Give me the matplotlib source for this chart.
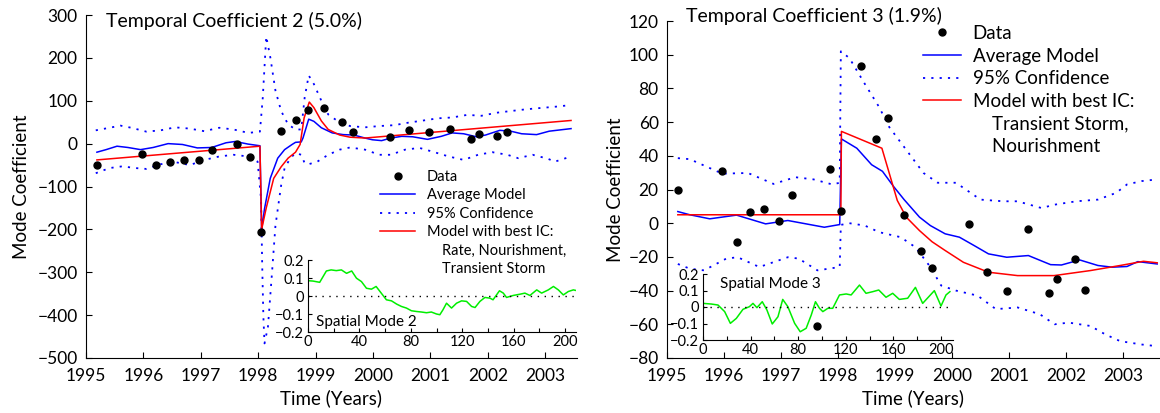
import numpy as np
import matplotlib
matplotlib.use('Agg')
import matplotlib.pyplot as plt
from matplotlib.lines import Line2D

plt.rcParams['font.family'] = ['Lato', 'DejaVu Sans']

# survey times shared by both coefficients
t_data = [1995.19, 1995.97, 1996.22, 1996.46, 1996.71, 1996.96, 1997.20, 1997.63,
          1997.86, 1998.05, 1998.40, 1998.66, 1998.87, 1999.15, 1999.46, 1999.65,
          2000.30, 2000.62, 2000.97, 2001.34, 2001.71, 2001.84, 2002.16, 2002.33]

# ---- coefficient 2 ----
c2_data = [-50, -24, -51, -43, -39, -38, -16, -1, -31, -205, 29, 55, 79, 84, 50, 27,
           15, 31, 26, 35, 11, 23, 17, 28]

c2_best_t = [1995.19, 1998.03, 1998.06, 1998.14, 1998.27, 1998.40, 1998.52, 1998.65, 1998.73,
             1998.80, 1998.89, 1998.97, 1999.10, 1999.22, 1999.42, 1999.60, 1999.86, 2003.45]
c2_best_v = [-38, -6, -200, -150, -81, -54, -34, -20, -2,
             60, 97, 84, 53, 33, 20, 15, 13, 54]

c2_avg_t = [1995.19, 1995.35, 1995.54, 1995.73, 1995.95, 1996.17, 1996.43, 1996.68, 1996.94,
            1997.19, 1997.44, 1997.60, 1997.82, 1998.03, 1998.06, 1998.11, 1998.21, 1998.34,
            1998.46, 1998.59, 1998.65, 1998.75, 1998.78, 1998.88, 1998.97, 1999.10, 1999.29,
            1999.48, 1999.67, 1999.86, 1999.99, 2000.15, 2000.31, 2000.50, 2000.69, 2000.95,
            2001.19, 2001.38, 2001.58, 2001.80, 2001.96, 2002.21, 2002.40, 2002.59, 2002.85,
            2003.07, 2003.45]
c2_avg_v = [-20, -14, -6, -9, -14, -9, 0, -2, -10,
            -9, 2, 5, -1, -5, -200, -152, -81, -34,
            -14, -2, 3, 4, 13, 57, 52, 37, 25,
            21, 20, 13, 9, 7, 13, 17, 16, 10,
            17, 25, 23, 16, 20, 31, 29, 23, 21,
            29, 35]

c2_hi_t = [1995.17, 1995.41, 1995.60, 1995.79, 1996.05, 1996.30, 1996.55, 1996.81, 1997.06,
           1997.32, 1997.57, 1997.83, 1998.03, 1998.08, 1998.14, 1998.21, 1998.30, 1998.40,
           1998.52, 1998.65, 1998.75, 1998.81, 1998.88, 1998.97, 1999.10, 1999.22, 1999.38,
           1999.60, 1999.86, 2000.11, 2000.37, 2000.62, 2000.88, 2001.13, 2001.38, 2001.64,
           2001.89, 2002.15, 2002.40, 2002.66, 2002.91, 2003.17, 2003.45]
c2_hi_v = [31, 37, 42, 37, 28, 31, 38, 35, 29,
           37, 33, 25, 28, 108, 250, 202, 124, 76,
           45, 33, 33, 108, 159, 139, 100, 68, 53,
           41, 38, 41, 43, 49, 54, 59, 61, 67,
           65, 72, 76, 80, 83, 86, 90]

c2_lo_t = [1995.17, 1995.41, 1995.63, 1995.86, 1996.05, 1996.30, 1996.55, 1996.81, 1997.06,
           1997.32, 1997.57, 1997.83, 1997.99, 1998.05, 1998.07, 1998.09, 1998.11, 1998.17,
           1998.24, 1998.30, 1998.35, 1998.40, 1998.46, 1998.56, 1998.65, 1998.75, 1998.81,
           1998.88, 1999.03, 1999.22, 1999.42, 1999.60, 1999.86, 2000.11, 2000.31, 2000.56,
           2000.81, 2001.07, 2001.32, 2001.58, 2001.83, 2002.08, 2002.34, 2002.53, 2002.78,
           2003.04, 2003.17, 2003.45]
c2_lo_v = [-69, -57, -53, -57, -59, -48, -43, -50, -38,
           -30, -26, -30, -42, -130, -286, -403, -466, -427,
           -302, -192, -144, -97, -57, -34, -22, -26, -46,
           -48, -42, -26, -14, -9, -14, -26, -26, -14,
           -10, -20, -30, -38, -26, -20, -26, -34, -26,
           -35, -42, -30]

# ---- coefficient 3 ----
c3_data = [19.6, 31.2, -10.9, 6.5, 8.5, 1.2, 16.7, -61, 32.4, 7.1, 93, 50, 62.7, 4.8,
           -16.6, -26.5, -0.4, -28.7, -40, -3.4, -41.6, -33.3, -21.4, -39.6]

c3_best_t = [1995.19, 1998.05, 1998.06, 1998.77, 1999.04, 1999.20, 1999.43, 1999.65, 1999.88,
             2000.20, 2000.64, 2001.15, 2001.79, 2002.43, 2002.95, 2003.36, 2003.60]
c3_best_v = [5, 5, 54.5, 44.5, 13.5, 3.5, -4.4, -11, -16.2,
             -23.2, -29.1, -31.1, -31.1, -28.1, -25.1, -22.6, -23.5]

c3_avg_t = [1995.19, 1995.40, 1995.75, 1996.22, 1996.73, 1997.12, 1997.76, 1998.03, 1998.06,
            1998.33, 1998.59, 1998.78, 1998.97, 1999.16, 1999.43, 1999.62, 1999.88, 2000.13,
            2000.39, 2000.64, 2000.96, 2001.34, 2001.73, 2001.92, 2002.24, 2002.56, 2002.81,
            2003.07, 2003.26, 2003.60]
c3_avg_v = [6.9, 5, 2.6, 4.8, -0.4, 1.6, -2.4, -0.8, 50,
            44.5, 34.7, 30.8, 22, 14, 3.6, -1.4, -6.3, -8.3,
            -13.3, -18.2, -20.2, -19.2, -24.6, -24.8, -21.8, -25.1, -26.1,
            -25.7, -22.8, -24.2]

c3_hi_t = [1995.19, 1995.40, 1995.97, 1996.42, 1996.87, 1997.25, 1997.57, 1997.90, 1998.03,
           1998.05, 1998.20, 1998.47, 1998.72, 1998.90, 1999.24, 1999.50, 1999.75, 2000.07,
           2000.50, 2000.90, 2001.15, 2001.57, 2001.80, 2002.18, 2002.56, 2002.88, 2003.07,
           2003.33, 2003.60]
c3_hi_v = [38.6, 38, 29.4, 29.8, 23.3, 27.3, 26, 23, 24,
           102, 98, 82.7, 69, 57, 41.6, 29.8, 24, 24,
           14, 13, 13, 9, 11, 13, 14, 18, 23,
           25, 26]

c3_lo_t = [1995.19, 1995.40, 1995.65, 1996.04, 1996.24, 1996.62, 1997.12, 1997.31, 1997.64,
           1998.03, 1998.05, 1998.20, 1998.47, 1998.72, 1999.10, 1999.36, 1999.62, 1999.81,
           2000.07, 2000.45, 2000.77, 2001.15, 2001.54, 2001.80, 2002.05, 2002.43, 2002.69,
           2002.95, 2003.33, 2003.60]
c3_lo_v = [-24.2, -27, -28, -21, -20.2, -26, -20.2, -21, -28,
           -26, -1, 0, -1.4, -5.3, -8.3, -14.3, -26, -37,
           -40, -43, -51, -50, -54, -60, -59, -61, -66,
           -70, -72, -73]

# ---- spatial modes (insets) ----
m2_x = [0, 3.9, 9.1, 14.3, 18, 22, 26, 30, 34, 37.7, 41.6, 45.5, 49.4, 53, 57, 61, 65, 69,
        72.7, 76.6, 80.5, 84.4, 88.3, 92.2, 96, 100, 102.6, 105, 107.8, 111.7, 115.6, 119.5,
        123.4, 127.3, 130, 133.8, 137.7, 141.6, 144, 149, 152, 154.5, 159.7, 165, 168.8,
        172.7, 178, 181.8, 187, 191, 194.8, 198.7, 202.6, 206.5, 209]
m2_y = [0.085, 0.083, 0.076, 0.139, 0.145, 0.141, 0.145, 0.126, 0.139, 0.099, 0.080, 0.043,
        0.038, 0.053, 0.016, -0.021, -0.027, -0.045, -0.058, -0.067, -0.082, -0.086, -0.089,
        -0.093, -0.089, -0.100, -0.104, -0.077, -0.040, -0.067, -0.040, -0.027, -0.030,
        -0.058, -0.064, -0.030, -0.008, -0.012, -0.021, 0.029, 0.016, -0.008, 0.003, 0.010,
        0.016, 0.003, 0.034, 0.016, 0.034, 0.053, 0.034, 0.006, 0.025, 0.034, 0.030]

m3_x = [0, 7, 12.6, 18.2, 23, 28, 33.6, 39, 42, 45.3, 49.8, 53.7, 58.2, 63, 67, 71.3, 77,
        81.7, 86.7, 91, 94.5, 97.9, 100.7, 104.9, 109, 114.7, 120.3, 124.5, 131.5, 137,
        142.7, 147.7, 153.8, 159.4, 165, 172, 178.5, 184.6, 194.4, 200, 204.2, 207.5]
m3_y = [0.022, 0.018, 0.012, -0.028, -0.099, -0.069, -0.014, 0.002, 0.022, -0.004, 0.032,
        -0.018, -0.103, -0.059, 0.046, 0.002, -0.099, -0.150, -0.129, -0.048, 0.032, -0.008,
        -0.028, -0.008, -0.008, 0.073, 0.079, 0.073, 0.133, 0.083, 0.093, 0.103, 0.059,
        0.083, 0.046, 0.053, 0.119, 0.022, 0.099, 0.006, 0.073, 0.093]

years = list(range(1995, 2004))
DOT = (0, (1.2, 3.4))
W, H = 1160, 413

fig = plt.figure(figsize=(W / 100, H / 100), dpi=100)


def frac(x0, y0, x1, y1):
    # pixel box (top-left origin) -> figure fraction rect
    return [x0 / W, 1 - y1 / H, (x1 - x0) / W, (y1 - y0) / H]


def style(ax, size=12.5, xpad=7, ypad=6, length=4):
    ax.spines['top'].set_visible(False)
    ax.spines['right'].set_visible(False)
    ax.tick_params(direction='in', length=length, labelsize=size, width=0.8)
    ax.tick_params(axis='x', pad=xpad)
    ax.tick_params(axis='y', pad=ypad)


def main_panel(ax, data, best, avg, hi, lo, ylim, yticks):
    ax.plot(hi[0], hi[1], color='blue', lw=1.3, ls=DOT)
    ax.plot(lo[0], lo[1], color='blue', lw=1.3, ls=DOT)
    ax.plot(avg[0], avg[1], color='blue', lw=1.1)
    ax.plot(best[0], best[1], color='red', lw=1.1)
    ax.plot(t_data, data, 'o', color='black', ms=5, zorder=5)
    ax.set_ylim(*ylim)
    ax.set_yticks(yticks)
    ax.set_xticks(years)
    style(ax)
    ax.set_ylabel('Mode Coefficient', fontsize=13.5)
    ax.set_xlabel('Time (Years)', fontsize=13.5)


def inset(rect, x, y, xmax, label, label_xy, label_va):
    ax = fig.add_axes(rect, facecolor='none')
    ax.plot(x, y, color='#00ee00', lw=1.1)
    ax.axhline(0, color='black', lw=1.0, ls=(0, (1, 4)))
    ax.set_xlim(0, xmax)
    ax.set_ylim(-0.2, 0.2)
    ax.set_yticks([-0.2, -0.1, 0, 0.1, 0.2])
    ax.set_yticklabels(['\u22120.2', '\u22120.1', '0', '0.1', '0.2'])
    ax.set_xticks(range(0, 201, 20))
    ax.set_xticklabels([str(v) if v % 40 == 0 else '' for v in range(0, 201, 20)])
    style(ax, size=10.5, xpad=2, ypad=3, length=3)
    ax.text(label_xy[0], label_xy[1], label, transform=ax.transAxes, fontsize=11,
            va=label_va, ha='left')
    return ax


# ---- left panel ----
ax1 = fig.add_axes(frac(86, 15, 577, 358))
ax1.set_xlim(1995, 1995 + (577 - 86) / 57.4)
main_panel(ax1, c2_data, (c2_best_t, c2_best_v), (c2_avg_t, c2_avg_v),
           (c2_hi_t, c2_hi_v), (c2_lo_t, c2_lo_v), (-500, 300), range(-500, 301, 100))
ax1.yaxis.set_label_coords(-0.115, 0.5)
fig.text(106 / W, 1 - 27 / H, 'Temporal Coefficient 2 (5.0%)', fontsize=14, va='baseline')

h_data = Line2D([], [], ls='none', marker='o', color='black', ms=5)
h_avg = Line2D([], [], color='blue', lw=1.1)
h_ci = Line2D([], [], color='blue', lw=1.3, ls=DOT)
h_best = Line2D([], [], color='red', lw=1.1)
h_none = Line2D([], [], ls='none')

ax1.legend([h_data, h_avg, h_ci, h_best, h_none, h_none],
           ['Data', 'Average Model', '95% Confidence', 'Model with best IC:',
            '    Rate, Nourishment,', '    Transient Storm'],
           loc='upper left', bbox_to_anchor=(380 / W, 1 - 170 / H),
           bbox_transform=fig.transFigure, frameon=False, fontsize=10.5,
           handlelength=2.4, handletextpad=0.8, labelspacing=0.3,
           borderpad=0, borderaxespad=0)

inset(frac(308, 260, 576, 332), m2_x, m2_y, (576 - 308) / 1.285,
      'Spatial Mode 2', (0.03, 0.04), 'bottom')

# ---- right panel ----
ax2 = fig.add_axes(frac(667, 21, 1160, 358))
ax2.set_xlim(1995, 1995 + (1160 - 667) / 57.0)
main_panel(ax2, c3_data, (c3_best_t, c3_best_v), (c3_avg_t, c3_avg_v),
           (c3_hi_t, c3_hi_v), (c3_lo_t, c3_lo_v), (-80, 120), range(-80, 121, 20))
ax2.yaxis.set_label_coords(-0.088, 0.5)
fig.text(686 / W, 1 - 22 / H, 'Temporal Coefficient 3 (1.9%)', fontsize=14, va='baseline')

ax2.legend([h_data, h_avg, h_ci, h_best, h_none, h_none],
           ['Data', 'Average Model', '95% Confidence', 'Model with best IC:',
            '    Transient Storm,', '    Nourishment'],
           loc='upper left', bbox_to_anchor=(923 / W, 1 - 25 / H),
           bbox_transform=fig.transFigure, frameon=False, fontsize=13.5,
           handlelength=2.0, handletextpad=0.65, labelspacing=0.3,
           borderpad=0, borderaxespad=0)

inset(frac(703, 274, 953, 340), m3_x, m3_y, (953 - 703) / 1.19,
      'Spatial Mode 3', (0.07, 0.95), 'top')

fig.savefig('out.png', dpi=100)
